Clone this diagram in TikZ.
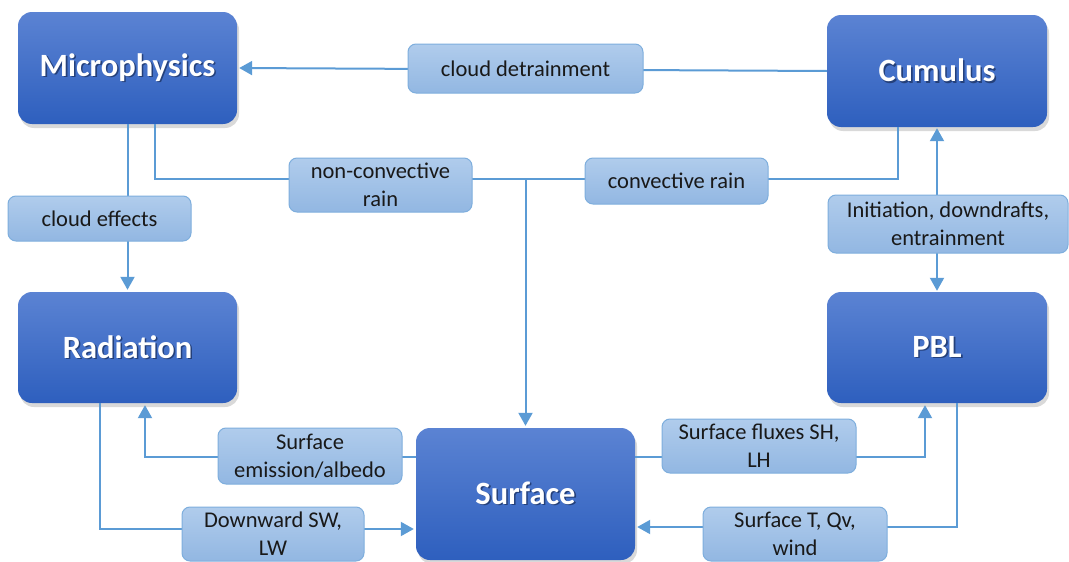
\documentclass[tikz,border=0pt]{standalone}
\usepackage{fontspec}
\setmainfont{Carlito}
\usetikzlibrary{arrows.meta,shadows,calc}
\definecolor{connc}{HTML}{5B9BD5}
\definecolor{bigtop}{HTML}{5B83D3}
\definecolor{bigbot}{HTML}{2E5FBE}
\definecolor{labtop}{HTML}{B0CCEC}
\definecolor{labbot}{HTML}{92B7E2}
\definecolor{labedge}{HTML}{7EAEDD}
\definecolor{txtshadow}{HTML}{24407A}
\newcommand\shtxt[1]{\leavevmode\rlap{\kern1.6pt\raisebox{-1.6pt}{\textcolor{txtshadow}{#1}}}#1}
\tikzset{
  bigbox/.style={rounded corners=14pt, minimum width=219pt, minimum height=112pt,
    top color=bigtop, bottom color=bigbot, draw=none, text=white,
    font=\fontsize{32.5}{38}\selectfont\bfseries,
    drop shadow={shadow xshift=2pt, shadow yshift=-4pt, opacity=0.3}},
  labbox/.style={rounded corners=8pt, top color=labtop, bottom color=labbot,
    draw=labedge, line width=1pt, text=black!90,
    font=\fontsize{22.5}{28}\selectfont, align=center, inner sep=0pt},
  conn/.style={draw=connc, line width=2pt},
  tip/.style={-{Triangle[width=14pt,length=13pt]}, shorten >=2pt},
  dtip/.style={{Triangle[width=14pt,length=13pt]}-{Triangle[width=14pt,length=13pt]}, shorten >=1pt, shorten <=1pt},
}
\begin{document}
\begin{tikzpicture}[x=1pt,y=-1pt]
\useasboundingbox (0,0) rectangle (1069,562);
% main boxes
\node[bigbox] (mic) at (127.5,68) {\shtxt{Microphysics}};
\node[bigbox, minimum width=220pt] (cum) at (937,71) {\shtxt{Cumulus}};
\node[bigbox, minimum height=111pt] (rad) at (127.5,347.5) {\shtxt{Radiation}};
\node[bigbox, minimum width=220pt, minimum height=111pt] (pbl) at (937,347.5) {\shtxt{PBL}};
\node[bigbox, minimum height=132pt] (sur) at (525.5,494) {\shtxt{Surface}};
\coordinate (j) at (525.5,179);
% connectors
\draw[conn,tip] (cum.west) -- (mic.east);
\draw[conn,tip] (mic.south) -- (rad.north);
\draw[conn,tip] ($(mic.south)+(27.5,0)$) |- (j) -- (sur.north);
\draw[conn] ($(cum.south)+(-39,0)$) |- (j);
\draw[conn,dtip] (pbl.north) -- (cum.south);
\draw[conn,tip] ($(sur.west)+(0,-37)$) -| ($(rad.south)+(17.5,0)$);
\draw[conn,tip] ($(rad.south)+(-27.5,0)$) |- ($(sur.west)+(0,35)$);
\draw[conn,tip] ($(sur.east)+(0,-37)$) -| ($(pbl.south)+(-12,0)$);
\draw[conn,tip] ($(pbl.south)+(20,0)$) |- ($(sur.east)+(0,33)$);
% labels
\node[labbox, minimum width=235pt, minimum height=49pt] (det) at (525.5,68.5) {cloud detrainment};
\node[labbox, minimum width=183pt, minimum height=45pt] (eff) at (99.5,218.5) {cloud effects};
\node[labbox, minimum width=183pt, minimum height=54pt] (ncr) at (380.5,185) {non-convective\\rain};
\node[labbox, minimum width=183pt, minimum height=46pt] (cr) at (676.5,181) {convective rain};
\node[labbox, minimum width=240pt, minimum height=58pt] (ini) at (948,224) {Initiation, downdrafts,\\entrainment};
\node[labbox, minimum width=184pt, minimum height=56pt] (sem) at (310,456) {Surface\\emission/albedo};
\node[labbox, minimum width=182pt, minimum height=54pt] (dsw) at (273,534) {Downward SW,\\LW};
\node[labbox, minimum width=194pt, minimum height=54pt] (sfx) at (759,446) {Surface fluxes SH,\\LH};
\node[labbox, minimum width=184pt, minimum height=54pt] (stq) at (795,534) {Surface T, Qv,\\wind};
\end{tikzpicture}
\end{document}
